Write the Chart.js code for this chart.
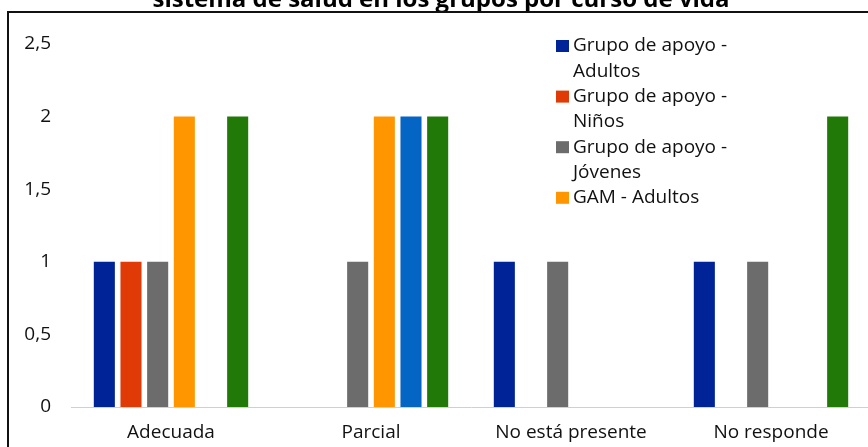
<!DOCTYPE html>
<html>
<head>
<meta charset="utf-8">
<script src="https://cdn.jsdelivr.net/npm/chart.js@4"></script>
<style>
  html, body { margin: 0; padding: 0; background: #fff; overflow: hidden; }
  #wrap { position: absolute; left: 0; top: 0; width: 900px; height: 447px; }
</style>
</head>
<body>
<div id="wrap"><canvas id="myChart" width="900" height="447"></canvas></div>
<script>
const ctx = document.getElementById("myChart");

const titleText = "sistema de salud en los grupos por curso de vida";
const categories = ["Adecuada", "Parcial", "No está presente", "No responde"];
const yTickLabels = ["0", "0,5", "1", "1,5", "2", "2,5"];

const seriesNames = [
  "Grupo de apoyo - Adultos",
  "Grupo de apoyo - Niños",
  "Grupo de apoyo - Jóvenes",
  "GAM - Adultos",
  "Serie 5",
  "Serie 6"
];
const apoyoAdultos = [1, 0, 1, 1];
const apoyoNinos   = [1, 0, 0, 0];
const apoyoJovenes = [1, 1, 1, 1];
const gamAdultos   = [2, 2, 0, 0];
const serie5       = [0, 2, 0, 0];
const serie6       = [2, 2, 0, 2];

const colors = ["#002397", "#E03A06", "#6C6C6C", "#FF9600", "#0565C4", "#217A08"];
const seriesValues = [apoyoAdultos, apoyoNinos, apoyoJovenes, gamAdultos, serie5, serie6];

// only the first four entries are visible in the (cropped) legend
const legendCount = 4;
const FONT = "'Open Sans', sans-serif";

const framePlugin = {
  id: "frame",
  afterDraw(chart) {
    const c = chart.ctx;
    c.save();
    // cropped title, only its lower half shows
    c.fillStyle = "#000";
    c.font = "bold 24px " + FONT;
    c.textAlign = "center";
    c.textBaseline = "alphabetic";
    c.fillText(titleText, 441, 7);

    // frame (left + top)
    c.strokeStyle = "#111";
    c.lineWidth = 2;
    c.beginPath();
    c.moveTo(8, 447);
    c.lineTo(8, 12);
    c.lineTo(900, 12);
    c.stroke();

    // legend with wrapped labels
    c.font = "19px " + FONT;
    c.textAlign = "left";
    c.textBaseline = "middle";
    let y = 46;
    for (let i = 0; i < legendCount; i++) {
      const words = chart.data.datasets[i].label.split(" ");
      const lines = [];
      let cur = "";
      words.forEach(w => {
        const test = cur ? cur + " " + w : w;
        if (c.measureText(test).width > 170 && cur) {
          lines.push(cur);
          cur = w;
        } else {
          cur = test;
        }
      });
      lines.push(cur);
      c.fillStyle = chart.data.datasets[i].backgroundColor;
      c.fillRect(556, y - 6, 13, 12);
      c.fillStyle = "#111";
      lines.forEach(l => {
        c.fillText(l, 573, y);
        y += 25.3;
      });
    }
    c.restore();
  }
};

new Chart(ctx, {
  type: "bar",
  data: {
    labels: categories,
    datasets: seriesValues.map((vals, i) => ({
      label: seriesNames[i],
      data: vals,
      backgroundColor: colors[i],
      borderWidth: 0,
      categoryPercentage: 0.8,
      barPercentage: 0.79
    }))
  },
  options: {
    responsive: false,
    animation: false,
    layout: { padding: { top: 44, right: 29, left: 0, bottom: 0 } },
    plugins: {
      legend: { display: false },
      title: { display: false },
      tooltip: { enabled: false }
    },
    scales: {
      x: {
        grid: { display: false, drawTicks: false },
        border: { display: true, color: "#d0d0d0", width: 1 },
        ticks: {
          color: "#111",
          font: { family: FONT, size: 19 },
          padding: 14,
          maxRotation: 0,
          autoSkip: false
        },
        afterFit(scale) { scale.height = 40; }
      },
      y: {
        min: 0,
        max: 2.5,
        grid: { display: false, drawTicks: false },
        border: { display: false },
        ticks: {
          stepSize: 0.5,
          color: "#111",
          font: { family: FONT, size: 19 },
          padding: 20,
          callback: (v, i) => yTickLabels[i]
        },
        afterFit(scale) { scale.width = 71; }
      }
    }
  },
  plugins: [framePlugin]
});
</script>
</body>
</html>
